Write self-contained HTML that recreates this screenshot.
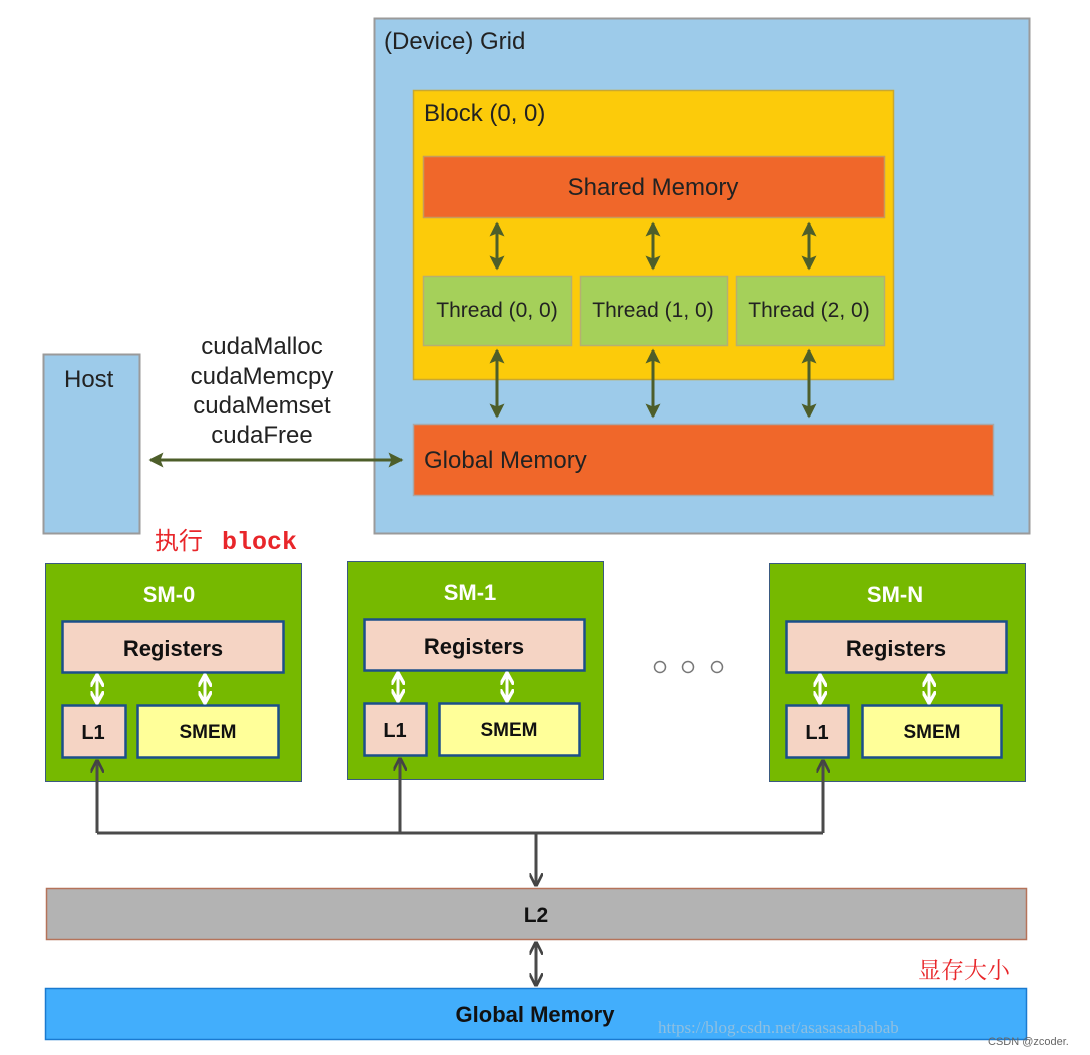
<!DOCTYPE html>
<html><head><meta charset="utf-8"><style>
html,body{margin:0;padding:0;background:#fff;width:1090px;height:1055px;overflow:hidden}
</style></head><body>
<svg width="1090" height="1055" viewBox="0 0 1090 1055" xmlns="http://www.w3.org/2000/svg" font-family="Liberation Sans, Noto Sans CJK SC, sans-serif">
<defs>
<marker id="g" viewBox="0 0 10 10" refX="9" refY="5" markerWidth="5" markerHeight="5" orient="auto-start-reverse"><path d="M0,0 L10,5 L0,10 L2,5 z" fill="#4d5e2a"/></marker>
<marker id="d" viewBox="0 0 10 10" refX="8" refY="5" markerWidth="4.5" markerHeight="4.5" orient="auto-start-reverse"><path d="M0,0 L10,5 L0,10" fill="none" stroke="#444" stroke-width="2"/></marker>
<marker id="w" viewBox="0 0 10 10" refX="8" refY="5" markerWidth="4.5" markerHeight="4.5" orient="auto-start-reverse"><path d="M0,0 L9,5 L0,10" fill="none" stroke="#fff" stroke-width="2.5"/></marker>
</defs>
<rect x="374.5" y="18.5" width="655" height="515" fill="#9dcbea" stroke="#9a9a9a" stroke-width="2"/>
<text x="384" y="49" font-size="24" fill="#222">(Device) Grid</text>
<rect x="413.5" y="90.5" width="480" height="289" fill="#fccb0a" stroke="#c9a830" stroke-width="1.5"/>
<text x="424" y="121" font-size="24" fill="#222">Block (0, 0)</text>
<rect x="423.5" y="156.5" width="461" height="61" fill="#f0672a" stroke="#c79a5a" stroke-width="1.5"/>
<text x="653" y="195" font-size="24" fill="#222" text-anchor="middle">Shared Memory</text>
<g fill="#a5d05a" stroke="#b5b070" stroke-width="1.5">
<rect x="423.5" y="276.5" width="148" height="69"/>
<rect x="580.5" y="276.5" width="147" height="69"/>
<rect x="736.5" y="276.5" width="148" height="69"/>
</g>
<g font-size="21" fill="#222" text-anchor="middle">
<text x="497" y="317">Thread (0, 0)</text>
<text x="653" y="317">Thread (1, 0)</text>
<text x="809" y="317">Thread (2, 0)</text>
</g>
<rect x="413.5" y="424.5" width="580" height="71" fill="#f0672a" stroke="#a8a8a8" stroke-width="1.5"/>
<text x="424" y="468" font-size="24" fill="#222">Global Memory</text>
<g stroke="#4d5e2a" stroke-width="3" marker-start="url(#g)" marker-end="url(#g)">
<line x1="497" y1="223" x2="497" y2="269"/>
<line x1="653" y1="223" x2="653" y2="269"/>
<line x1="809" y1="223" x2="809" y2="269"/>
<line x1="497" y1="350" x2="497" y2="417"/>
<line x1="653" y1="350" x2="653" y2="417"/>
<line x1="809" y1="350" x2="809" y2="417"/>
<line x1="150" y1="460" x2="402" y2="460"/>
</g>
<rect x="43.5" y="354.5" width="96" height="179" fill="#9dcbea" stroke="#9a9a9a" stroke-width="2"/>
<text x="64" y="387" font-size="24" fill="#222">Host</text>
<g font-size="24" fill="#222" text-anchor="middle">
<text x="262" y="354">cudaMalloc</text>
<text x="262" y="384">cudaMemcpy</text>
<text x="262" y="413">cudaMemset</text>
<text x="262" y="443">cudaFree</text>
</g>
<text x="155" y="549" font-size="24" fill="#e8262a" style="font-family:'Noto Sans CJK SC',sans-serif">执行</text>
<text x="222" y="549" font-size="25" fill="#e8262a" font-weight="bold" style="font-family:'Liberation Mono',monospace">block</text>
<g>
<rect x="45.5" y="563.5" width="256" height="218" fill="#76b900" stroke="#3a5a80" stroke-width="1"/>
<text x="169" y="602" font-size="22" font-weight="bold" fill="#fff" text-anchor="middle">SM-0</text>
<rect x="62.5" y="621.5" width="221" height="51" fill="#f5d4c4" stroke="#1b4f8a" stroke-width="2.5"/>
<text x="173" y="656" font-size="22" font-weight="bold" fill="#111" text-anchor="middle">Registers</text>
<rect x="62.5" y="705.5" width="63" height="52" fill="#f5d4c4" stroke="#1b4f8a" stroke-width="2.5"/>
<text x="93" y="739" font-size="20" font-weight="bold" fill="#111" text-anchor="middle">L1</text>
<rect x="137.5" y="705.5" width="141" height="52" fill="#ffff99" stroke="#1b4f8a" stroke-width="2.5"/>
<text x="208" y="738" font-size="19" font-weight="bold" fill="#111" text-anchor="middle">SMEM</text>
</g>
<g>
<rect x="347.5" y="561.5" width="256" height="218" fill="#76b900" stroke="#3a5a80" stroke-width="1"/>
<text x="470" y="600" font-size="22" font-weight="bold" fill="#fff" text-anchor="middle">SM-1</text>
<rect x="364.5" y="619.5" width="220" height="51" fill="#f5d4c4" stroke="#1b4f8a" stroke-width="2.5"/>
<text x="474" y="654" font-size="22" font-weight="bold" fill="#111" text-anchor="middle">Registers</text>
<rect x="364.5" y="703.5" width="62" height="52" fill="#f5d4c4" stroke="#1b4f8a" stroke-width="2.5"/>
<text x="395" y="737" font-size="20" font-weight="bold" fill="#111" text-anchor="middle">L1</text>
<rect x="439.5" y="703.5" width="140" height="52" fill="#ffff99" stroke="#1b4f8a" stroke-width="2.5"/>
<text x="509" y="736" font-size="19" font-weight="bold" fill="#111" text-anchor="middle">SMEM</text>
</g>
<g>
<rect x="769.5" y="563.5" width="256" height="218" fill="#76b900" stroke="#3a5a80" stroke-width="1"/>
<text x="895" y="602" font-size="22" font-weight="bold" fill="#fff" text-anchor="middle">SM-N</text>
<rect x="786.5" y="621.5" width="220" height="51" fill="#f5d4c4" stroke="#1b4f8a" stroke-width="2.5"/>
<text x="896" y="656" font-size="22" font-weight="bold" fill="#111" text-anchor="middle">Registers</text>
<rect x="786.5" y="705.5" width="62" height="52" fill="#f5d4c4" stroke="#1b4f8a" stroke-width="2.5"/>
<text x="817" y="739" font-size="20" font-weight="bold" fill="#111" text-anchor="middle">L1</text>
<rect x="862.5" y="705.5" width="139" height="52" fill="#ffff99" stroke="#1b4f8a" stroke-width="2.5"/>
<text x="932" y="738" font-size="19" font-weight="bold" fill="#111" text-anchor="middle">SMEM</text>
</g>
<g stroke="#fff" stroke-width="3" marker-start="url(#w)" marker-end="url(#w)">
<line x1="97" y1="676" x2="97" y2="702"/>
<line x1="205" y1="676" x2="205" y2="702"/>
<line x1="398" y1="674" x2="398" y2="700"/>
<line x1="507" y1="674" x2="507" y2="700"/>
<line x1="820" y1="676" x2="820" y2="702"/>
<line x1="929" y1="676" x2="929" y2="702"/>
</g>
<g fill="none" stroke="#777" stroke-width="1.5">
<circle cx="660" cy="667" r="5.5"/><circle cx="688" cy="667" r="5.5"/><circle cx="717" cy="667" r="5.5"/>
</g>
<g stroke="#4a4a4a" stroke-width="3" fill="none">
<polyline points="97,833 823,833"/>
<line x1="97" y1="833" x2="97" y2="762" marker-end="url(#d)"/>
<line x1="400" y1="833" x2="400" y2="760" marker-end="url(#d)"/>
<line x1="823" y1="833" x2="823" y2="762" marker-end="url(#d)"/>
<line x1="536" y1="833" x2="536" y2="884" marker-end="url(#d)"/>
<line x1="536" y1="944" x2="536" y2="984" marker-start="url(#d)" marker-end="url(#d)"/>
</g>
<rect x="46.5" y="888.5" width="980" height="51" fill="#b3b3b3" stroke="#b5735a" stroke-width="1.5"/>
<text x="536" y="922" font-size="21" font-weight="bold" fill="#111" text-anchor="middle">L2</text>
<text x="918" y="978" font-size="23" fill="#e8262a" style="font-family:'Noto Serif CJK SC',serif">显存大小</text>
<rect x="45.5" y="988.5" width="981" height="51" fill="#42aefc" stroke="#1a7ad0" stroke-width="1.5"/>
<text x="535" y="1022" font-size="22" font-weight="bold" fill="#111" text-anchor="middle">Global Memory</text>
<text x="658" y="1033" font-size="17" fill="#8fbfe0" style="font-family:'Liberation Serif',serif">https://blog.csdn.net/asasasaababab</text>
<text x="988" y="1045" font-size="11" fill="#666">CSDN @zcoder.</text>
</svg>
</body></html>
